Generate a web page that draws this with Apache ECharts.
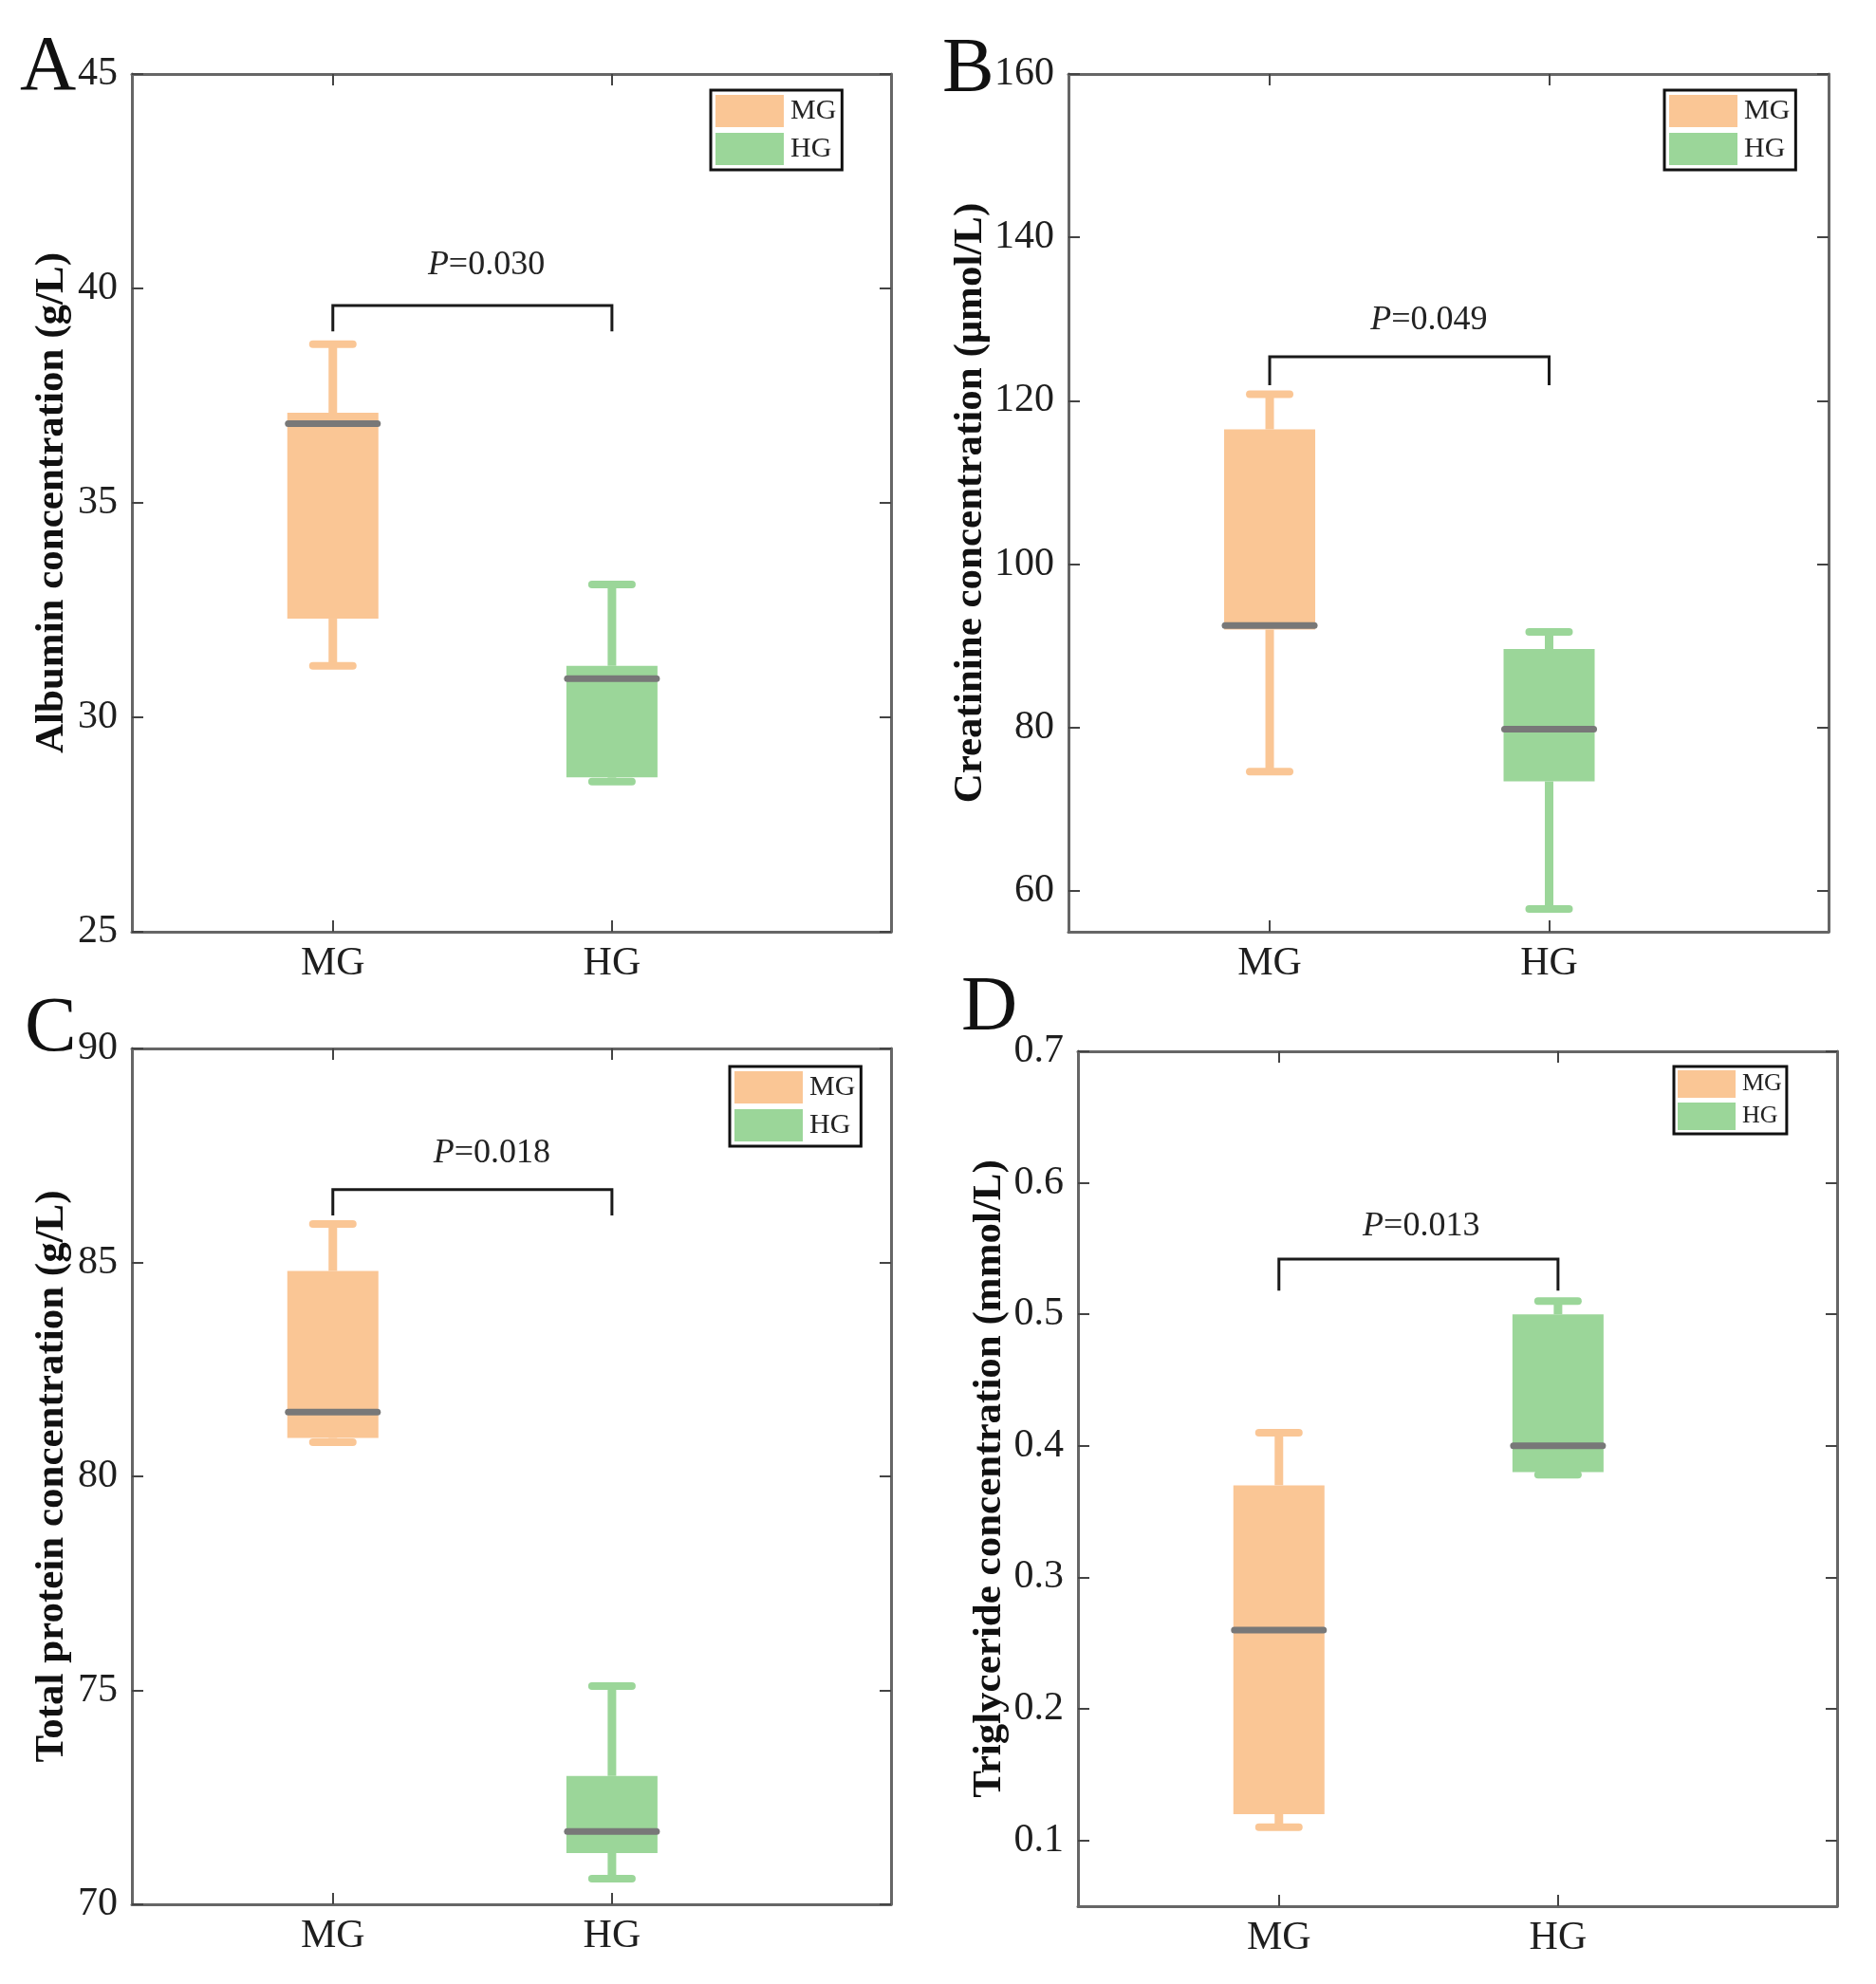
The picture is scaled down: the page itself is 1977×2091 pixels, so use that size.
<!DOCTYPE html>
<html>
<head>
<meta charset="utf-8">
<script src="https://cdn.jsdelivr.net/npm/echarts@6/dist/echarts.min.js"></script>
<style>
html,body{margin:0;padding:0;background:#fff;}
#chart{width:1977px;height:2091px;}
</style>
</head>
<body>
<div id="chart"></div>
<script>
// ---------------- DATA ----------------
const categories = ['MG', 'HG'];
const categoryPos = [1, 2];
const panelLetters = ['A', 'B', 'C', 'D'];
const yTitles = [
  'Albumin concentration (g/L)',
  'Creatinine concentration (\u03bcmol/L)',
  'Total protein concentration (g/L)',
  'Triglyceride concentration (mmol/L)'
];
const yTicksA = [25, 30, 35, 40, 45];
const yTicksB = [60, 80, 100, 120, 140, 160];
const yTicksC = [70, 75, 80, 85, 90];
const yTicksD = [0.1, 0.2, 0.3, 0.4, 0.5, 0.6, 0.7];
const yRangeA = [25, 45];
const yRangeB = [55, 160];
const yRangeC = [70, 90];
const yRangeD = [0.05, 0.7];
const xRange = [0.28, 3.0];

// box statistics: [lower whisker, Q1, median, Q3, upper whisker]
const albuminMG = [31.2, 32.3, 36.85, 37.1, 38.7];
const albuminHG = [28.5, 28.6, 30.9, 31.2, 33.1];
const creatinineMG = [74.6, 92.0, 92.5, 116.5, 120.8];
const creatinineHG = [57.8, 73.4, 79.8, 89.6, 91.7];
const proteinMG = [80.8, 80.9, 81.5, 84.8, 85.9];
const proteinHG = [70.6, 71.2, 71.7, 73.0, 75.1];
const triglycerideMG = [0.11, 0.12, 0.26, 0.37, 0.41];
const triglycerideHG = [0.378, 0.38, 0.40, 0.50, 0.51];

const pValues = ['0.030', '0.049', '0.018', '0.013'];
// bracket: [bar y, end y, label y, label x]
const bracketA = [39.6, 39.0, 40.55, 1.55];
const bracketB = [125.4, 121.9, 129.9, 1.57];
const bracketC = [86.7, 86.1, 87.55, 1.57];
const bracketD = [0.542, 0.518, 0.567, 1.51];

// ---------------- STYLE / LAYOUT ----------------
const SERIF = '"Liberation Serif", "Times New Roman", serif';
const COLORS = {MG: '#FAC695', HG: '#9BD699'};
const STYLE = {boxW: 96, capW: 42, whiskerW: 9, capLW: 8, medianW: 94, medianLW: 7, medianColor: '#787878'};
const GRIDS = [
  {left: 139, top: 78, width: 800, height: 904},
  {left: 1126, top: 78, width: 801, height: 904},
  {left: 139, top: 1105, width: 800, height: 902},
  {left: 1136, top: 1108, width: 800, height: 901}
];
const NAME_GAPS = [63, 80, 63, 70];
const LETTER_POS = [[21, 72], [993, 74], [26, 1085], [1013, 1063]];
const LEGENDS = [
  {left: 749, top: 95, iw: 72, ih: 34, gap: 6, fs: 30, pad: [5, 6, 5, 5]},
  {left: 1754, top: 95, iw: 72, ih: 34, gap: 6, fs: 30, pad: [5, 6, 5, 5]},
  {left: 769, top: 1124, iw: 72, ih: 34, gap: 6, fs: 30, pad: [5, 6, 5, 5]},
  {left: 1764, top: 1124, iw: 61, ih: 29, gap: 5, fs: 26, pad: [4, 5, 4, 4]}
];

const panels = [
  {ticks: yTicksA, range: yRangeA, mg: albuminMG, hg: albuminHG, bracket: bracketA},
  {ticks: yTicksB, range: yRangeB, mg: creatinineMG, hg: creatinineHG, bracket: bracketB},
  {ticks: yTicksC, range: yRangeC, mg: proteinMG, hg: proteinHG, bracket: bracketC},
  {ticks: yTicksD, range: yRangeD, mg: triglycerideMG, hg: triglycerideHG, bracket: bracketD}
];

function renderBox(params, api) {
  const x = api.value(0);
  const p = k => api.coord([x, api.value(k)]);
  const pLow = p(1), pQ1 = p(2), pMed = p(3), pQ3 = p(4), pHigh = p(5);
  const cx = pLow[0];
  const color = api.visual('color');
  const bw = STYLE.boxW, cw = STYLE.capW, mw = STYLE.medianW;
  return {
    type: 'group',
    children: [
      {type: 'line', shape: {x1: cx, y1: pLow[1], x2: cx, y2: pQ1[1]}, style: {stroke: color, lineWidth: STYLE.whiskerW}},
      {type: 'line', shape: {x1: cx, y1: pQ3[1], x2: cx, y2: pHigh[1]}, style: {stroke: color, lineWidth: STYLE.whiskerW}},
      {type: 'line', shape: {x1: cx - cw / 2, y1: pHigh[1], x2: cx + cw / 2, y2: pHigh[1]}, style: {stroke: color, lineWidth: STYLE.capLW, lineCap: 'round'}},
      {type: 'line', shape: {x1: cx - cw / 2, y1: pLow[1], x2: cx + cw / 2, y2: pLow[1]}, style: {stroke: color, lineWidth: STYLE.capLW, lineCap: 'round'}},
      {type: 'rect', shape: {x: cx - bw / 2, y: pQ3[1], width: bw, height: pQ1[1] - pQ3[1]}, style: {fill: color}},
      {type: 'line', shape: {x1: cx - mw / 2, y1: pMed[1], x2: cx + mw / 2, y2: pMed[1]}, style: {stroke: STYLE.medianColor, lineWidth: STYLE.medianLW, lineCap: 'round'}}
    ]
  };
}

function makeBracketRenderer(pText) {
  return function (params, api) {
    const x1 = api.value(0), x2 = api.value(1);
    const barY = api.value(2), endY = api.value(3), labY = api.value(4), labX = api.value(5);
    const a = api.coord([x1, endY]), b = api.coord([x1, barY]);
    const c = api.coord([x2, barY]), d = api.coord([x2, endY]);
    const t = api.coord([labX, labY]);
    return {
      type: 'group',
      children: [
        {type: 'polyline', shape: {points: [a, b, c, d]}, style: {stroke: '#1a1a1a', lineWidth: 3, fill: null}},
        {type: 'text', x: t[0], y: t[1], style: {
          text: '{i|P}=' + pText, fill: '#222', fontSize: 36, fontFamily: SERIF,
          align: 'center', verticalAlign: 'middle',
          rich: {i: {fontStyle: 'italic', fontSize: 36, fontFamily: SERIF, fill: '#222'}}
        }}
      ]
    };
  };
}

const grid = [], xAxis = [], yAxis = [], series = [], legend = [], graphic = [];
const axisLineStyle = {color: '#666', width: 3};
const tickStyle = {color: '#444', width: 2};

panels.forEach((pn, i) => {
  grid.push(Object.assign({containLabel: false}, GRIDS[i]));
  const xBase = {
    gridIndex: i, type: 'value', min: xRange[0], max: xRange[1],
    axisLine: {show: true, onZero: false, lineStyle: axisLineStyle},
    axisTick: {show: true, inside: true, length: 12, customValues: categoryPos, lineStyle: tickStyle},
    splitLine: {show: false}
  };
  xAxis.push(Object.assign({}, xBase, {
    position: 'bottom',
    axisLabel: {show: true, customValues: categoryPos, formatter: v => categories[categoryPos.indexOf(v)],
      fontSize: 42, fontFamily: SERIF, color: '#1e1e1e', margin: 13}
  }));
  xAxis.push(Object.assign({}, xBase, {position: 'top', axisLabel: {show: false}}));
  const yBase = {
    gridIndex: i, type: 'value', min: pn.range[0], max: pn.range[1],
    axisLine: {show: true, onZero: false, lineStyle: axisLineStyle},
    axisTick: {show: true, inside: true, length: 12, customValues: pn.ticks, lineStyle: tickStyle},
    splitLine: {show: false}
  };
  yAxis.push(Object.assign({}, yBase, {
    position: 'left',
    name: yTitles[i], nameLocation: 'middle', nameRotate: 90, nameGap: NAME_GAPS[i],
    nameTextStyle: {fontSize: 43, fontWeight: 'bold', fontFamily: SERIF, color: '#111'},
    axisLabel: {show: true, customValues: pn.ticks, fontSize: 42, fontFamily: SERIF, color: '#1e1e1e', margin: 15}
  }));
  yAxis.push(Object.assign({}, yBase, {position: 'right', axisLabel: {show: false}}));

  series.push({
    name: 'MG', type: 'custom', xAxisIndex: 2 * i, yAxisIndex: 2 * i,
    itemStyle: {color: COLORS.MG}, renderItem: renderBox, silent: true,
    data: [[categoryPos[0]].concat(pn.mg)]
  });
  series.push({
    name: 'HG', type: 'custom', xAxisIndex: 2 * i, yAxisIndex: 2 * i,
    itemStyle: {color: COLORS.HG}, renderItem: renderBox, silent: true,
    data: [[categoryPos[1]].concat(pn.hg)]
  });
  series.push({
    name: 'bracket' + i, type: 'custom', xAxisIndex: 2 * i, yAxisIndex: 2 * i,
    renderItem: makeBracketRenderer(pValues[i]), silent: true,
    data: [[categoryPos[0], categoryPos[1]].concat(pn.bracket)]
  });

  const L = LEGENDS[i];
  legend.push({
    data: categories, orient: 'vertical', left: L.left, top: L.top, icon: 'rect',
    itemWidth: L.iw, itemHeight: L.ih, itemGap: L.gap, padding: L.pad,
    borderColor: '#111', borderWidth: 3, borderRadius: 0, backgroundColor: '#fff',
    selectedMode: false,
    textStyle: {fontSize: L.fs, fontFamily: SERIF, color: '#222', padding: [0, 0, 0, 2]}
  });

  graphic.push({
    type: 'text', x: LETTER_POS[i][0], y: LETTER_POS[i][1],
    style: {text: panelLetters[i], fontSize: 82, fontFamily: SERIF, fill: '#111', align: 'left', verticalAlign: 'middle'}
  });
});

const chart = echarts.init(document.getElementById('chart'), null, {renderer: 'canvas'});
chart.setOption({
  animation: false,
  backgroundColor: '#fff',
  grid, xAxis, yAxis, series, legend, graphic
});
</script>
</body>
</html>
